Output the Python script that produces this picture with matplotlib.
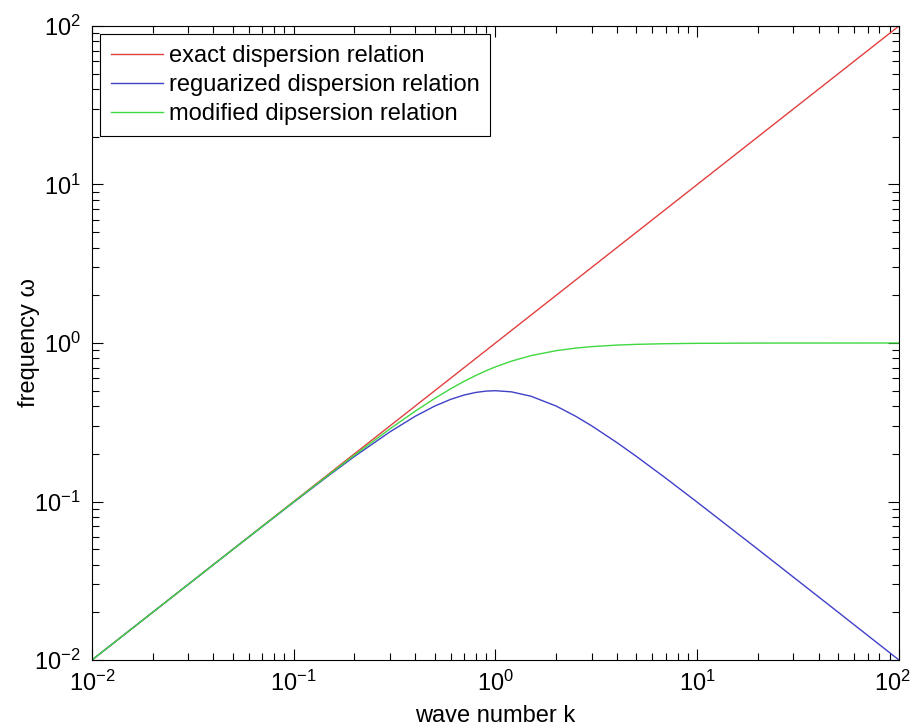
import matplotlib
matplotlib.use("Agg")
import matplotlib.pyplot as plt
from matplotlib.transforms import ScaledTranslation

# values (log-log)
k = [0.01, 0.02, 0.05, 0.1, 0.15, 0.2, 0.3, 0.4, 0.5, 0.6, 0.7, 0.8, 0.9,
     1.0, 1.2, 1.5, 2, 2.5, 3, 4, 5, 7, 10, 20, 50, 100]
omega_exact = list(k)
omega_reg = [0.01, 0.02, 0.0499, 0.099, 0.1467, 0.1923, 0.2752, 0.3448, 0.4,
             0.4412, 0.4698, 0.4878, 0.4972, 0.5, 0.4918, 0.4615, 0.4, 0.3448,
             0.3, 0.2353, 0.1923, 0.14, 0.099, 0.0499, 0.02, 0.01]
omega_mod = [0.01, 0.02, 0.0499, 0.0995, 0.1483, 0.1961, 0.2873, 0.3714,
             0.4472, 0.5145, 0.5735, 0.6247, 0.669, 0.7071, 0.7682, 0.8321,
             0.8944, 0.9285, 0.9487, 0.9701, 0.9806, 0.9899, 0.995, 0.9988,
             0.9998, 1.0]
decades = [1e-2, 1e-1, 1e0, 1e1, 1e2]

plt.rcParams["font.family"] = ["Liberation Sans", "DejaVu Sans"]
plt.rcParams["mathtext.fontset"] = "custom"
plt.rcParams["mathtext.rm"] = "Liberation Sans"
plt.rcParams["mathtext.it"] = "Liberation Sans:italic"
plt.rcParams["axes.unicode_minus"] = False

fig = plt.figure(figsize=(9.15, 7.28), dpi=100)
ax = fig.add_axes([0.1005, 0.0934, 0.882, 0.8709])

ax.loglog(k, omega_exact, color="#e04040", lw=1.0, label="exact dispersion relation")
ax.loglog(k, omega_reg, color="#4040c8", lw=1.0, label="reguarized dispersion relation")
ax.loglog(k, omega_mod, color="#40d840", lw=1.0, label="modified dipsersion relation")

ax.set_xlim(1e-2, 1e2)
ax.set_ylim(1e-2, 1e2)
ax.set_xticks(decades)
ax.set_yticks(decades)
ax.set_xlabel("wave number k", fontsize=17, labelpad=6)
ax.set_ylabel("frequency ω", fontsize=17)
ax.yaxis.set_label_coords(-0.064, 0.5)

ax.tick_params(which="both", direction="in", top=True, right=True, labelsize=17)
ax.tick_params(which="major", length=8, width=0.8, pad=8)
ax.tick_params(which="minor", length=5, width=0.8)
for s in ax.spines.values():
    s.set_linewidth(0.8)

# keep the last x label inside the canvas, like the reference
last = ax.xaxis.get_major_ticks()[-1].label1
last.set_transform(last.get_transform() + ScaledTranslation(-5 / 72, 0, fig.dpi_scale_trans))

leg = ax.legend(loc="upper left", fontsize=17, fancybox=False, framealpha=1,
                edgecolor="black", borderaxespad=0.35, handlelength=2.2,
                handletextpad=0.25, labelspacing=0.3, borderpad=0.45)
leg.get_frame().set_linewidth(0.8)

fig.savefig("out.png", dpi=100)
plt.close(fig)
